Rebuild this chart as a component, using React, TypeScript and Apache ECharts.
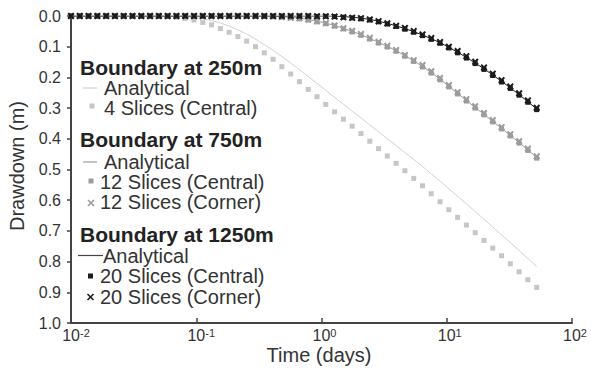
import React, { useEffect, useRef } from "react";
import * as echarts from "echarts";

// Time steps (days)
const times = [0.01, 0.01175, 0.01381, 0.01623, 0.01908, 0.02243, 0.02636, 0.03098, 0.03641, 0.04279,
  0.05029, 0.0591, 0.0695, 0.0816, 0.096, 0.1128, 0.1325, 0.1558, 0.1831, 0.2152,
  0.2529, 0.2973, 0.3494, 0.4107, 0.4826, 0.5672, 0.6667, 0.7835, 0.9208, 1.082,
  1.272, 1.496, 1.758, 2.066, 2.429, 2.854, 3.355, 3.943, 4.634, 5.446,
  6.401, 7.523, 8.842, 10.39, 12.21, 14.35, 16.87, 19.83, 23.3, 27.39,
  32.19, 37.83, 44.46, 52.26];

// Boundary at 250m
const analytical250 = [0, 0, 0, 0, 0, 0, 0, 0, 0, 0,
  0, 0, 0.001, 0.003, 0.005, 0.009, 0.015, 0.023, 0.033, 0.045,
  0.059, 0.075, 0.093, 0.112, 0.132, 0.153, 0.175, 0.197, 0.22, 0.242,
  0.265, 0.287, 0.31, 0.332, 0.355, 0.377, 0.4, 0.422, 0.445, 0.467,
  0.49, 0.514, 0.538, 0.563, 0.587, 0.612, 0.637, 0.662, 0.687, 0.713,
  0.738, 0.764, 0.79, 0.816];
const slices4Central = [0, 0, 0, 0, 0, 0, 0, 0, 0, 0,
  0.001, 0.002, 0.004, 0.008, 0.013, 0.021, 0.029, 0.041, 0.053, 0.067,
  0.082, 0.1, 0.12, 0.141, 0.165, 0.189, 0.214, 0.239, 0.263, 0.288,
  0.312, 0.336, 0.359, 0.383, 0.408, 0.432, 0.456, 0.48, 0.504, 0.529,
  0.553, 0.579, 0.605, 0.631, 0.656, 0.681, 0.706, 0.731, 0.756, 0.781,
  0.807, 0.833, 0.859, 0.884];

// Boundary at 750m
const analytical750 = [0, 0, 0, 0, 0, 0, 0, 0, 0, 0,
  0, 0, 0, 0, 0, 0, 0, 0, 0, 0,
  0, 0, 0, 0, 0.002, 0.004, 0.007, 0.011, 0.017, 0.023,
  0.031, 0.04, 0.05, 0.061, 0.073, 0.086, 0.099, 0.113, 0.129, 0.146,
  0.164, 0.184, 0.206, 0.229, 0.252, 0.275, 0.298, 0.32, 0.343, 0.366,
  0.389, 0.412, 0.436, 0.461];
const slices12Central = [0, 0, 0, 0, 0, 0, 0, 0, 0, 0,
  0, 0, 0, 0, 0, 0, 0, 0, 0, 0,
  0, 0, 0.001, 0.002, 0.004, 0.006, 0.009, 0.013, 0.019, 0.025,
  0.033, 0.042, 0.052, 0.063, 0.075, 0.088, 0.101, 0.115, 0.131, 0.148,
  0.166, 0.186, 0.208, 0.231, 0.254, 0.277, 0.3, 0.322, 0.345, 0.368,
  0.391, 0.414, 0.438, 0.463];
const slices12Corner = [0, 0, 0, 0, 0, 0, 0, 0, 0, 0,
  0, 0, 0, 0, 0, 0, 0, 0, 0, 0,
  0, 0, 0.001, 0.002, 0.004, 0.006, 0.007, 0.011, 0.017, 0.023,
  0.031, 0.04, 0.048, 0.059, 0.071, 0.084, 0.097, 0.111, 0.127, 0.144,
  0.16, 0.18, 0.202, 0.225, 0.248, 0.271, 0.294, 0.316, 0.339, 0.362,
  0.385, 0.408, 0.432, 0.457];

// Boundary at 1250m
const analytical1250 = [0, 0, 0, 0, 0, 0, 0, 0, 0, 0,
  0, 0, 0, 0, 0, 0, 0, 0, 0, 0,
  0, 0, 0, 0, 0, 0, 0, 0, 0, 0,
  0, 0.002, 0.004, 0.007, 0.011, 0.017, 0.024, 0.032, 0.041, 0.051,
  0.062, 0.074, 0.087, 0.102, 0.118, 0.135, 0.153, 0.172, 0.192, 0.213,
  0.234, 0.256, 0.279, 0.303];
const slices20Central = [0, 0, 0, 0, 0, 0, 0, 0, 0, 0,
  0, 0, 0, 0, 0, 0, 0, 0, 0, 0,
  0, 0, 0, 0, 0, 0, 0, 0, 0.001, 0.001,
  0.002, 0.004, 0.006, 0.009, 0.013, 0.019, 0.026, 0.034, 0.043, 0.053,
  0.064, 0.076, 0.089, 0.104, 0.12, 0.137, 0.155, 0.174, 0.194, 0.215,
  0.236, 0.258, 0.281, 0.305];
const slices20Corner = [0, 0, 0, 0, 0, 0, 0, 0, 0, 0,
  0, 0, 0, 0, 0, 0, 0, 0, 0, 0,
  0, 0, 0, 0, 0, 0, 0, 0, 0.001, 0.001,
  0.002, 0.004, 0.006, 0.007, 0.011, 0.017, 0.024, 0.032, 0.039, 0.049,
  0.06, 0.072, 0.085, 0.1, 0.114, 0.131, 0.149, 0.168, 0.188, 0.209,
  0.23, 0.252, 0.275, 0.299];

const yTicks = [0, 0.1, 0.2, 0.3, 0.4, 0.5, 0.6, 0.7, 0.8, 0.9, 1.0];

const FONT = '"Liberation Sans", Arial, sans-serif';
const LIGHT = "#c6c6c6";
const MID = "#9c9c9c";
const DARK = "#1c1c1c";
const TEXT = "#333333";
const CROSS = "path://M2,0 L5,3 L8,0 L10,2 L7,5 L10,8 L8,10 L5,7 L2,10 L0,8 L3,5 L0,2 Z";

const pairs = (vals: number[]) => times.map((t, i) => [t, vals[i]]);

export default function App() {
  const ref = useRef<HTMLDivElement>(null);
  useEffect(() => {
    if (!ref.current) return;
    const chart = echarts.init(ref.current, null, { renderer: "svg" });
    const lineS = (name: string, vals: number[], color: string) => ({
      name, type: "line", data: pairs(vals), symbol: "none", showSymbol: false,
      lineStyle: { color, width: 1 }, z: 2,
    });
    const scat = (name: string, vals: number[], color: string, symbol: string, size: number) => ({
      name, type: "scatter", data: pairs(vals), symbol, symbolSize: size,
      itemStyle: { color, opacity: 1 }, z: 3,
    });
    const txt = (x: number, y: number, text: string, bold = false) => ({
      type: "text", x, y, z: 10,
      style: { text, fill: bold ? "#222" : TEXT, font: `${bold ? "bold 21px" : "20px"} ${FONT}`, verticalAlign: "middle", align: "left", lineHeight: 16 },
    });
    const hline = (x1: number, x2: number, y: number, color: string) => ({
      type: "line", z: 10, shape: { x1, y1: y, x2, y2: y }, style: { stroke: color, lineWidth: 1.2 },
    });
    const sq = (cx: number, cy: number, color: string) => ({
      type: "rect", z: 10, shape: { x: cx - 2.5, y: cy - 2.5, width: 5, height: 5 }, style: { fill: color },
    });
    const cross = (cx: number, cy: number, color: string) => ({
      type: "group", z: 10, children: [
        { type: "line", shape: { x1: cx - 3, y1: cy - 3, x2: cx + 3, y2: cy + 3 }, style: { stroke: color, lineWidth: 1.6 } },
        { type: "line", shape: { x1: cx - 3, y1: cy + 3, x2: cx + 3, y2: cy - 3 }, style: { stroke: color, lineWidth: 1.6 } },
      ],
    });
    chart.setOption({
      animation: false,
      backgroundColor: "#ffffff",
      grid: { left: 71, right: 19, top: 16, bottom: 46, containLabel: false },
      xAxis: {
        type: "log", logBase: 10, min: 0.01, max: 100, position: "bottom",
        axisLine: { show: true, onZero: false, lineStyle: { color: "#444", width: 2 } },
        axisTick: { show: true, inside: true, length: 5, lineStyle: { color: "#444", width: 1.5 } },
        minorTick: { show: false },
        splitLine: { show: false },
        axisLabel: {
          margin: 4,
          showMinLabel: true, showMaxLabel: true,
          formatter: (v: number) => {
            const e = Math.round(Math.log10(v));
            return e < 0 ? `{bn|10}{s|${e}}` : `{bp|10}{s|${e}}`;
          },
          rich: {
            bn: { fontSize: 16, fontFamily: FONT, color: TEXT, padding: [0, 0, 0, 10], verticalAlign: "bottom", lineHeight: 16 },
            bp: { fontSize: 16, fontFamily: FONT, color: TEXT, padding: [0, 0, 0, 6], verticalAlign: "bottom", lineHeight: 16 },
            s: { fontSize: 11, fontFamily: FONT, color: TEXT, verticalAlign: "top", lineHeight: 11 },
          },
        },
      },
      yAxis: {
        type: "value", inverse: true, min: yTicks[0], max: yTicks[yTicks.length - 1], interval: 0.1,
        axisLine: { show: true, onZero: false, lineStyle: { color: "#444", width: 2 } },
        axisTick: { show: true, inside: false, length: 4, lineStyle: { color: "#444", width: 1.5 } },
        splitLine: { show: false },
        axisLabel: { margin: 10, fontSize: 16, fontFamily: FONT, color: TEXT, formatter: (v: number) => v.toFixed(1) },
      },
      series: [
        lineS("Analytical 250m", analytical250, "#d2d2d2"),
        scat("4 Slices (Central)", slices4Central, LIGHT, "rect", 5),
        lineS("Analytical 750m", analytical750, MID),
        scat("12 Slices (Central)", slices12Central, MID, "rect", 5),
        scat("12 Slices (Corner)", slices12Corner, MID, CROSS, 7),
        lineS("Analytical 1250m", analytical1250, DARK),
        scat("20 Slices (Central)", slices20Central, DARK, "rect", 5),
        scat("20 Slices (Corner)", slices20Corner, DARK, CROSS, 7),
      ],
      graphic: [
        txt(80, 67, "Boundary at 250m", true),
        hline(83, 97, 88, "#cfcfcf"),
        txt(104, 88, "Analytical"),
        sq(92, 106, LIGHT),
        txt(104, 108, "4 Slices (Central)"),
        txt(80, 139, "Boundary at 750m", true),
        hline(83, 97, 162, MID),
        txt(104, 162, "Analytical"),
        sq(91, 181, MID),
        txt(100, 182, "12 Slices (Central)"),
        cross(91, 203, MID),
        txt(100, 202, "12 Slices (Corner)"),
        txt(80, 234.5, "Boundary at 1250m", true),
        hline(78, 103, 255.5, "#444"),
        txt(103, 255.5, "Analytical"),
        sq(90.5, 276, DARK),
        txt(100, 276, "20 Slices (Central)"),
        cross(90.5, 297, DARK),
        txt(100, 296.5, "20 Slices (Corner)"),
        {
          type: "text", x: 319, y: 355, z: 10,
          style: { text: "Time (days)", fill: TEXT, font: `20px ${FONT}`, align: "center", verticalAlign: "middle", lineHeight: 18 },
        },
        {
          type: "text", x: 17, y: 166, rotation: Math.PI / 2, z: 10,
          style: { text: "Drawdown (m)", fill: TEXT, font: `20px ${FONT}`, align: "center", verticalAlign: "middle" },
        },
      ],
    });
    return () => chart.dispose();
  }, []);
  return <div ref={ref} style={{ position: "absolute", left: 0, top: 0, width: 591, height: 369 }} />;
}
